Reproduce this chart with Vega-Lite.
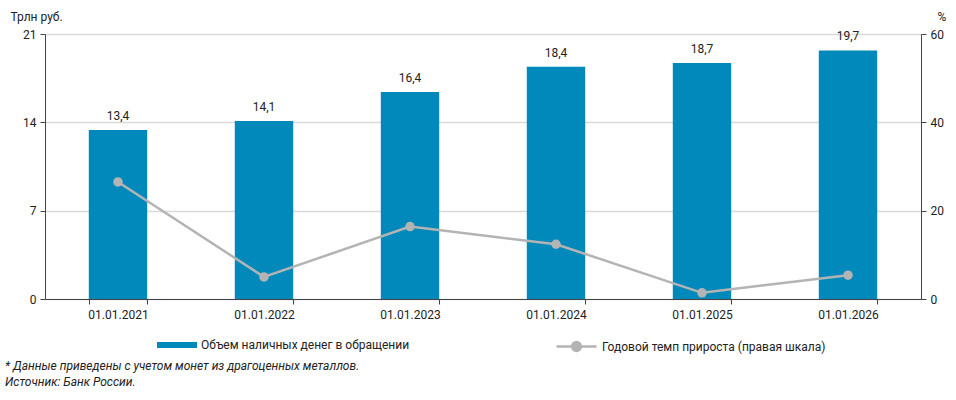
{
  "$schema": "https://vega.github.io/schema/vega-lite/v6.json",
  "autosize": "none",
  "width": 876,
  "height": 265,
  "padding": {"left": 45, "top": 34, "right": 35, "bottom": 101},
  "background": "white",
  "config": {
    "locale": {"number": {"decimal": ",", "thousands": " ", "grouping": [3], "currency": ["", " ₽"]}},
    "view": {"stroke": null},
    "font": "Roboto",
    "axis": {"labelFont": "Roboto", "labelFontSize": 12, "labelColor": "#222", "titleFont": "Roboto", "titleFontSize": 12, "titleFontWeight": "normal", "titleColor": "#222"}
  },
  "title": {
    "text": ["* Данные приведены с учетом монет из драгоценных металлов.", "Источник: Банк России."],
    "orient": "bottom",
    "anchor": "start",
    "frame": "group",
    "dx": -40,
    "offset": 5,
    "font": "Roboto",
    "fontSize": 12,
    "fontStyle": "italic",
    "fontWeight": "normal",
    "color": "#222",
    "lineHeight": 16
  },
  "data": {
    "values": [
      {"date": "01.01.2021", "cash": 13.4, "growth": 26.5},
      {"date": "01.01.2022", "cash": 14.1, "growth": 5.0},
      {"date": "01.01.2023", "cash": 16.4, "growth": 16.4},
      {"date": "01.01.2024", "cash": 18.4, "growth": 12.4},
      {"date": "01.01.2025", "cash": 18.7, "growth": 1.4},
      {"date": "01.01.2026", "cash": 19.7, "growth": 5.4}
    ]
  },
  "encoding": {
    "x": {
      "field": "date", "type": "nominal", "sort": null,
      "scale": {"paddingInner": 0.6, "paddingOuter": 0.3},
      "axis": {"title": null, "labelAngle": 0, "tickBand": "extent", "domainColor": "#444", "tickColor": "#444", "tickSize": 5, "labelPadding": 5, "grid": false}
    }
  },
  "layer": [
    {
      "encoding": {
        "y": {
          "field": "cash", "type": "quantitative",
          "scale": {"domain": [0, 21], "nice": false},
          "axis": {"values": [0, 7, 14, 21], "title": "Трлн руб.", "titleAngle": 0, "titleAlign": "left", "titleBaseline": "alphabetic", "titleX": -35, "titleY": -14, "grid": true, "gridColor": "#d9d9d9", "gridWidth": 1.5, "domainColor": "#444", "tickColor": "#444", "tickSize": 5, "labelPadding": 4}
        }
      },
      "layer": [
        {
          "mark": {"type": "bar", "color": "#0089BA"},
          "encoding": {
            "fill": {
              "datum": "Объем наличных денег в обращении",
              "scale": {"range": ["#0089BA"]},
              "legend": {"title": null, "orient": "none", "legendX": 112, "legendY": 291, "symbolType": "M-1,-0.15H1V0.15H-1Z", "symbolSize": 1600, "symbolStrokeWidth": 0, "labelFont": "Roboto", "labelFontSize": 12, "labelColor": "#222", "labelOffset": 4, "labelLimit": 400}
            }
          }
        },
        {
          "mark": {"type": "text", "baseline": "bottom", "dy": -7, "font": "Roboto", "fontSize": 12, "color": "#222"},
          "encoding": {
            "text": {"field": "cash", "type": "quantitative", "format": ".1f"}
          }
        }
      ]
    },
    {
      "encoding": {
        "y": {
          "field": "growth", "type": "quantitative",
          "scale": {"domain": [0, 60], "nice": false},
          "axis": {"orient": "right", "values": [0, 20, 40, 60], "title": "%", "titleAngle": 0, "titleAlign": "left", "titleBaseline": "alphabetic", "titleX": 16, "titleY": -14, "grid": false, "domainColor": "#444", "tickColor": "#444", "tickSize": 5, "labelPadding": 4}
        }
      },
      "layer": [
        {
          "mark": {"type": "line", "strokeWidth": 2.5},
          "encoding": {
            "stroke": {
              "datum": "Годовой темп прироста (правая шкала)",
              "scale": {"range": ["#b4b4b4"]},
              "legend": {"title": null, "orient": "none", "legendX": 510, "legendY": 291, "symbolType": "M-1,0H1M0.22,0A0.22,0.22 0 1,1 -0.22,0A0.22,0.22 0 1,1 0.22,0Z", "symbolSize": 1600, "symbolStrokeWidth": 2.5, "symbolFillColor": "#b4b4b4", "labelFont": "Roboto", "labelFontSize": 12, "labelColor": "#222", "labelOffset": 4, "labelLimit": 400}
            }
          }
        },
        {
          "mark": {"type": "point", "filled": true, "size": 90, "color": "#b4b4b4", "opacity": 1}
        }
      ]
    }
  ],
  "resolve": {"scale": {"y": "independent"}}
}
